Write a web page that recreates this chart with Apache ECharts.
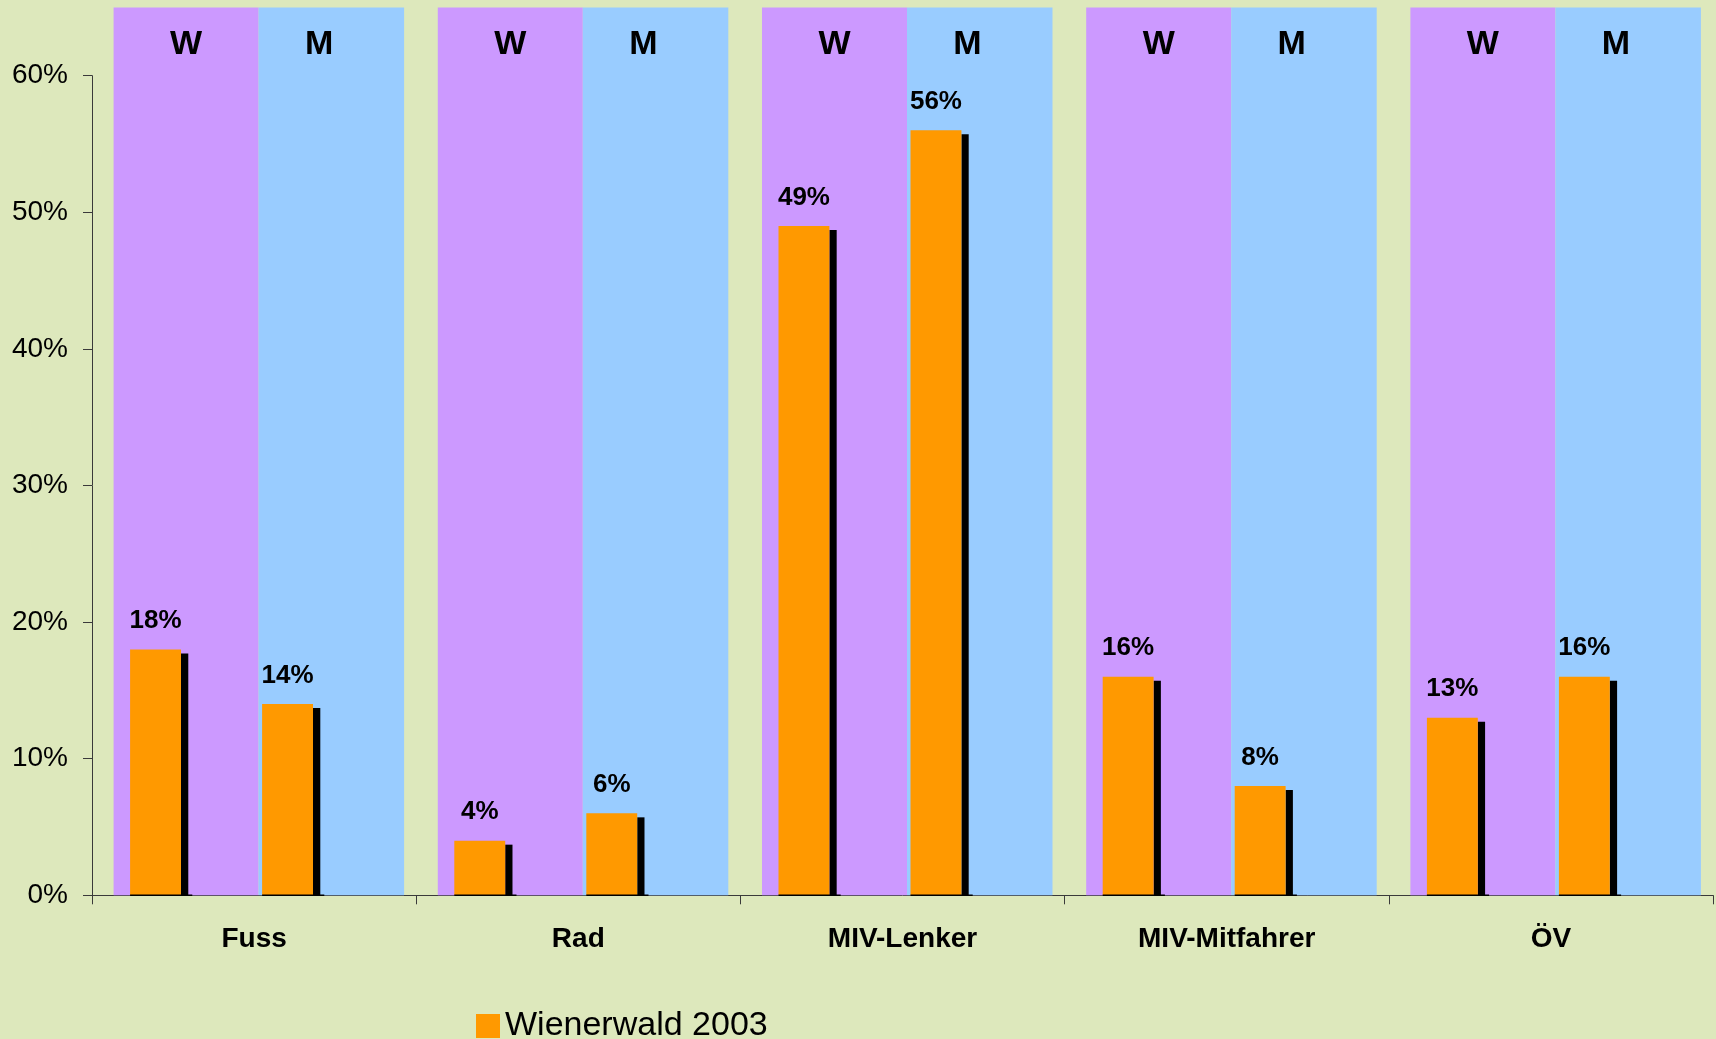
<!DOCTYPE html>
<html>
<head>
<meta charset="utf-8">
<title>Verkehrsmittelwahl nach Geschlecht – Wienerwald 2003</title>
<script src="https://cdn.jsdelivr.net/npm/echarts@6/dist/echarts.min.js"></script>
<style>
  html, body { margin: 0; padding: 0; background: #DDE8BC; }
  #chart { width: 1716px; height: 1039px; }
</style>
</head>
<body>
<div id="chart"></div>
<script>
// Modal split by gender (W = Frauen, M = Männer), shares in percent
const categories = ['Fuss', 'Rad', 'MIV-Lenker', 'MIV-Mitfahrer', 'ÖV'];
const womenShare = [18, 4, 49, 16, 13];
const menShare = [14, 6, 56, 8, 16];
const groupLabels = ['W', 'M'];
const seriesName = 'Wienerwald 2003';
const yMax = 60;
const yStep = 10;

// Height (in axis units) of the coloured W/M background panels
const PANEL_TOP = 65;

// Horizontal layout inside one category, as fractions of the category width
const LAYOUT = {
  panelLeft: -0.4334,
  panelSplit: 0.0139,
  panelRight: 0.4627,
  labelW: -0.2097,
  labelM: 0.2005,
  barW: -0.3825,
  barM: 0.0247,
  barWidth: 0.157,
  shadowWidth: 0.0225
};

const COLORS = {
  bg: '#DDE8BC',
  women: '#CC99FF',
  men: '#99CCFF',
  bar: '#FF9900',
  shadow: '#000000',
  axis: '#3a3a3a',
  text: '#000000'
};

const FONT = 'Liberation Sans, Arial, sans-serif';

function renderPanels(params, api) {
  const i = api.value(0);
  const base = api.coord([i, 0]);
  const top = api.coord([i, PANEL_TOP])[1];
  const cw = api.size([1, 0])[0];
  const cx = base[0];
  const x0 = cx + LAYOUT.panelLeft * cw;
  const xm = cx + LAYOUT.panelSplit * cw;
  const x1 = cx + LAYOUT.panelRight * cw;
  const textStyle = {
    fill: COLORS.text,
    fontSize: 34,
    fontWeight: 'bold',
    fontFamily: FONT,
    align: 'center',
    verticalAlign: 'middle'
  };
  return {
    type: 'group',
    children: [
      { type: 'rect', shape: { x: x0, y: top, width: xm - x0, height: base[1] - top }, style: { fill: COLORS.women } },
      { type: 'rect', shape: { x: xm, y: top, width: x1 - xm, height: base[1] - top }, style: { fill: COLORS.men } },
      { type: 'text', style: Object.assign({ text: groupLabels[0], x: cx + LAYOUT.labelW * cw, y: top + 37 }, textStyle) },
      { type: 'text', style: Object.assign({ text: groupLabels[1], x: cx + LAYOUT.labelM * cw, y: top + 37 }, textStyle) }
    ]
  };
}

function barGroup(cx, cw, base, value, api, offset, i) {
  const top = api.coord([i, value])[1];
  const left = cx + offset * cw;
  const w = LAYOUT.barWidth * cw;
  const sw = LAYOUT.shadowWidth * cw;
  return [
    // drop shadow on the right side of the bar
    { type: 'rect', shape: { x: left + w, y: top + 4, width: sw, height: base - top - 4 }, style: { fill: COLORS.shadow } },
    { type: 'rect', shape: { x: left, y: top, width: w, height: base - top }, style: { fill: COLORS.bar } },
    { type: 'line', shape: { x1: left, y1: base, x2: left + w + sw + 4, y2: base }, style: { stroke: COLORS.shadow, lineWidth: 1.5 } },
    {
      type: 'text',
      style: {
        text: value + '%',
        x: left + w / 2,
        y: top - 28.5,
        fill: COLORS.text,
        fontSize: 26,
        fontWeight: 'bold',
        fontFamily: FONT,
        align: 'center',
        verticalAlign: 'middle'
      }
    }
  ];
}

function renderBars(params, api) {
  const i = api.value(0);
  const basePt = api.coord([i, 0]);
  const cw = api.size([1, 0])[0];
  const cx = basePt[0];
  const base = basePt[1];
  const children = []
    .concat(barGroup(cx, cw, base, api.value(1), api, LAYOUT.barW, i))
    .concat(barGroup(cx, cw, base, api.value(2), api, LAYOUT.barM, i));
  return { type: 'group', children: children };
}

const panelData = categories.map((c, i) => [i]);
const barData = categories.map((c, i) => [i, womenShare[i], menShare[i]]);

const chart = echarts.init(document.getElementById('chart'), null, { renderer: 'canvas' });

chart.setOption({
  backgroundColor: COLORS.bg,
  animation: false,
  textStyle: { fontFamily: FONT },
  grid: { left: 92, right: 3, top: 75.7, bottom: 143.7, containLabel: false },
  legend: {
    data: [{ name: seriesName, icon: 'rect' }],
    left: 471,
    top: 1004,
    itemWidth: 24,
    itemHeight: 24,
    selectedMode: false,
    textStyle: { fontSize: 34, color: COLORS.text, fontFamily: FONT }
  },
  xAxis: {
    type: 'category',
    data: categories,
    boundaryGap: true,
    axisLine: { show: true, lineStyle: { color: COLORS.axis, width: 1 } },
    axisTick: { show: true, length: 9, lineStyle: { color: COLORS.axis, width: 1 } },
    axisLabel: { fontSize: 28, fontWeight: 'bold', color: COLORS.text, fontFamily: FONT, margin: 30 },
    splitLine: { show: false }
  },
  yAxis: {
    type: 'value',
    min: 0,
    max: yMax,
    interval: yStep,
    axisLine: { show: true, lineStyle: { color: COLORS.axis, width: 1 } },
    axisTick: { show: true, length: 9, lineStyle: { color: COLORS.axis, width: 1 } },
    axisLabel: { formatter: '{value}%', fontSize: 28, color: COLORS.text, fontFamily: FONT, margin: 24 },
    splitLine: { show: false }
  },
  series: [
    {
      name: 'Panels',
      type: 'custom',
      renderItem: renderPanels,
      data: panelData,
      encode: { x: 0 },
      clip: false,
      silent: true,
      z: 1
    },
    {
      name: seriesName,
      type: 'custom',
      renderItem: renderBars,
      data: barData,
      encode: { x: 0, y: [1, 2] },
      itemStyle: { color: COLORS.bar },
      clip: false,
      silent: true,
      z: 2
    }
  ]
});
</script>
</body>
</html>
